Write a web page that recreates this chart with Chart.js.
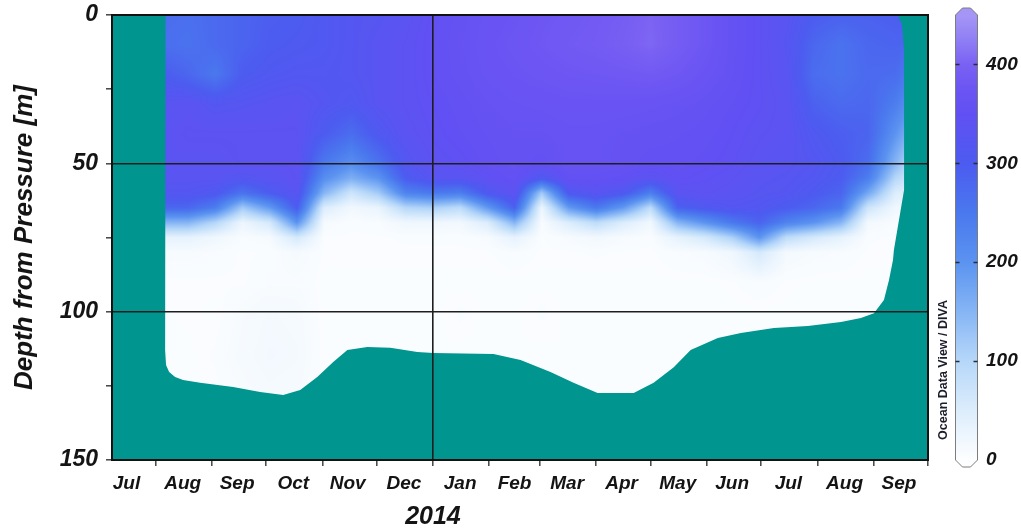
<!DOCTYPE html>
<html>
<head>
<meta charset="utf-8">
<script src="https://cdn.jsdelivr.net/npm/chart.js@4.4.1/dist/chart.umd.min.js"></script>
<style>
  html, body { margin: 0; padding: 0; background: #ffffff; }
  #wrap { width: 1021px; height: 531px; }
</style>
</head>
<body>
<div id="wrap"><canvas id="section" width="1021" height="531"></canvas></div>
<script>
// ---- time axis: days relative to 1 Jan 2014 ----
const monthNames     = ['Jul','Aug','Sep','Oct','Nov','Dec','Jan','Feb','Mar','Apr','May','Jun','Jul','Aug','Sep'];
const monthMidDays   = [-169,-138,-108,-77,-47,-16,15,45,74,104,135,165,196,227,257];
const monthStartDays = [-153,-122,-92,-61,-31,0,31,59,90,120,151,181,212,243,273];
const timeMin = -177, timeMax = 273;
const yearLabel = '2014', yearDay = 0;

// ---- depth axis ----
const depthTicks = [0,25,50,75,100,125,150];
const depthLabelStep = 50;
const depthLines = [50,100];

// ---- colour bar ----
const cbTicks = [0,100,200,300,400];
const cbMax = 450;
const cbStopValues = [0, 50, 100, 150, 200, 250, 300, 350, 375, 400, 425, 450];
const cbStopColors = ['#fdfeff','#dcedfc','#b6d7f9','#86b5f5','#5b93f0','#4a78ee',
                      '#4c5bf0','#6150f3','#6b55f3','#7a61f3','#8f7ff5','#a596f6'];

// ---- gridded field: sample times (days) and depths (m) ----
const sampleDays = [-148,-135,-120,-105,-90,-75,-60,-45,-30,-15,0,15,30,45,60,75,90,105,120,135,150,165,180,195,210,225,240,255,262];
const sampleDepths = [0,10,20,30,40,50,55,60,65,70,75,80,90,100,115,130];

const at0m   = [270,265,275,285,295,300,310,320,325,335,350,360,368,372,378,382,386,392,402,390,378,360,345,330,300,290,290,295,300];
const at10m  = [265,260,275,285,300,305,310,320,330,340,352,362,370,375,380,385,388,395,405,390,378,360,345,325,280,260,280,285,280];
const at20m  = [300,280,250,300,310,315,315,320,330,340,352,360,368,372,375,378,380,382,385,380,370,358,345,330,270,260,275,270,250];
const at30m  = [330,335,320,325,330,335,320,310,330,340,348,355,362,366,368,370,370,370,368,365,360,352,345,335,290,275,280,240,210];
const at40m  = [335,340,340,340,340,340,300,270,310,335,345,352,358,362,362,365,365,362,360,358,355,348,340,335,310,295,285,200,160];
const at50m  = [335,335,335,340,340,340,250,210,260,320,340,345,355,360,355,365,365,360,355,355,350,345,335,330,320,305,270,150,100];
const at55m  = [330,330,330,320,330,340,210,160,200,300,330,330,345,355,310,355,355,350,335,350,345,340,330,325,315,300,240,100,70];
const at60m  = [320,320,310,260,300,330,150,70,120,230,250,240,310,340,120,310,330,310,240,335,340,335,325,320,305,285,170,50,40];
const at65m  = [280,280,240,120,190,300,50,18,30,100,110,90,190,290,25,190,250,190,90,290,310,320,315,300,280,250,70,20,15];
const at70m  = [150,150,100,25,60,200,12,6,8,20,20,18,50,150,8,50,90,50,18,150,200,250,285,230,200,150,15,8,6];
const at75m  = [35,35,20,8,12,60,5,5,5,6,6,6,10,35,5,10,18,10,6,35,60,110,200,90,60,35,6,5,5];
const at80m  = [10,10,8,5,6,12,5,5,5,5,5,5,5,8,5,5,6,5,5,8,10,20,60,15,10,8,5,5,5];
const at90m  = [5,5,5,5,8,8,4,4,4,4,4,4,4,4,4,4,4,4,4,4,4,5,8,5,4,4,4,4,4];
const at100m = [4,5,4,10,14,12,4,4,4,4,4,6,4,4,6,4,4,4,4,4,4,4,4,4,4,4,4,4,4];
const at115m = [4,4,6,12,16,14,4,4,4,4,4,4,4,4,4,4,4,4,4,4,4,4,4,4,4,4,4,4,4];
const at130m = [4,4,4,8,12,10,4,4,4,4,4,4,4,4,4,4,4,4,4,4,4,4,4,4,4,4,4,4,4];
const fieldRows = [at0m, at10m, at20m, at30m, at40m, at50m, at55m, at60m, at65m, at70m, at75m, at80m, at90m, at100m, at115m, at130m];

// ---- outline of the sampled region (time, depth) ----
const edgeDays   = [-147.5,-147.7,-147.2,-145.5,-142.2,-137.8,-128.4,-110.2,-95.3,-82.6,-73.2,-63.8,-55.0,-47.2,-36.2,-23.5,-8.6,0.2,33.4,48.3,64.8,77.5,90.8,110.7,121.7,132.8,142.1,157.1,169.8,188.0,206.7,225.0,236.0,243.2,248.7,251.5,253.7,254.2,257.0,259.8,259.8,258.7,256.4];
const edgeDepths = [0,113.0,118.0,120.3,122.0,123.0,124.0,125.4,127.1,128.1,126.4,122.0,117.0,112.9,111.9,112.2,113.6,113.9,114.3,116.3,120.3,124.0,127.4,127.4,124.0,118.7,112.9,108.9,107.2,105.5,104.8,103.5,102.1,100.5,96.1,89.3,82.6,79.2,69.1,59.0,11.8,3.4,0];

const seabedColor = '#00958f';
const inkColor = '#141414';
const fontFamily = "'Liberation Sans', Arial, Helvetica, sans-serif";

function hexToRgb(h) {
  return [parseInt(h.slice(1,3),16), parseInt(h.slice(3,5),16), parseInt(h.slice(5,7),16)];
}
function colourTable() {
  const rgb = cbStopColors.map(hexToRgb);
  const lut = [];
  for (let v = 0; v <= cbMax; v++) {
    let k = 0;
    while (k < cbStopValues.length - 2 && v > cbStopValues[k+1]) k++;
    const f = (v - cbStopValues[k]) / (cbStopValues[k+1] - cbStopValues[k]);
    lut.push(rgb[k].map((c, n) => Math.round(c + (rgb[k+1][n] - c) * Math.min(1, Math.max(0, f)))));
  }
  return lut;
}
function locate(arr, v) {
  if (v <= arr[0]) return [0, 0];
  if (v >= arr[arr.length-1]) return [arr.length-2, 1];
  let k = 0;
  while (k < arr.length - 2 && v > arr[k+1]) k++;
  return [k, (v - arr[k]) / (arr[k+1] - arr[k])];
}
function zeroPadding(scale) {
  scale.paddingTop = 0; scale.paddingBottom = 0;
  scale.paddingLeft = 0; scale.paddingRight = 0;
}

// Interpolated section field, clipped to the sampled region, over the sea-bed colour.
const sectionField = {
  id: 'sectionField',
  beforeDraw(chart) {
    const {ctx, chartArea: a, scales} = chart;
    const xs = scales.x, ys = scales.y;
    const w = Math.round(a.right - a.left), h = Math.round(a.bottom - a.top);
    const off = document.createElement('canvas');
    off.width = w; off.height = h;
    const octx = off.getContext('2d');
    const img = octx.createImageData(w, h);
    const lut = colourTable();
    const colK = new Array(w), colF = new Array(w);
    for (let i = 0; i < w; i++) {
      const [k, f] = locate(sampleDays, xs.getValueForPixel(a.left + i + 0.5));
      colK[i] = k; colF[i] = f;
    }
    for (let j = 0; j < h; j++) {
      const [r, g] = locate(sampleDepths, ys.getValueForPixel(a.top + j + 0.5));
      const r0 = fieldRows[r], r1 = fieldRows[r+1];
      for (let i = 0; i < w; i++) {
        const k = colK[i], f = colF[i];
        const v0 = r0[k] + (r0[k+1] - r0[k]) * f;
        const v1 = r1[k] + (r1[k+1] - r1[k]) * f;
        const v = Math.max(0, Math.min(cbMax, Math.round(v0 + (v1 - v0) * g)));
        const c = lut[v], p = (j * w + i) * 4;
        img.data[p] = c[0]; img.data[p+1] = c[1]; img.data[p+2] = c[2]; img.data[p+3] = 255;
      }
    }
    octx.putImageData(img, 0, 0);

    ctx.save();
    ctx.fillStyle = seabedColor;
    ctx.fillRect(a.left, a.top, a.right - a.left, a.bottom - a.top);
    ctx.beginPath();
    edgeDays.forEach((d, n) => {
      const px = xs.getPixelForValue(d), py = ys.getPixelForValue(edgeDepths[n]);
      if (n === 0) ctx.moveTo(px, py); else ctx.lineTo(px, py);
    });
    ctx.closePath();
    ctx.clip();
    ctx.drawImage(off, a.left, a.top);
    ctx.restore();
  },
  afterDraw(chart) {
    const {ctx, chartArea: a, scales} = chart;
    const cb = scales.cb;
    ctx.save();
    // plot frame
    ctx.strokeStyle = '#111111';
    ctx.lineWidth = 2;
    ctx.strokeRect(a.left, a.top, a.right - a.left, a.bottom - a.top);

    // colour bar
    const x0 = a.right + 27.5, x1 = a.right + 49.5;
    const yTop = cb.getPixelForValue(cbMax), yBot = cb.getPixelForValue(0);
    const cap = 7, inset = 7;
    const grad = ctx.createLinearGradient(0, yBot, 0, yTop);
    cbStopValues.forEach((v, n) => grad.addColorStop(v / cbMax, cbStopColors[n]));
    ctx.beginPath();
    ctx.moveTo(x0, yBot);
    ctx.lineTo(x0, yTop);
    ctx.lineTo(x0 + inset, yTop - cap);
    ctx.lineTo(x1 - inset, yTop - cap);
    ctx.lineTo(x1, yTop);
    ctx.lineTo(x1, yBot);
    ctx.lineTo(x1 - inset, yBot + cap);
    ctx.lineTo(x0 + inset, yBot + cap);
    ctx.closePath();
    ctx.fillStyle = grad;
    ctx.fill();
    // caps keep the end colours
    ctx.fillStyle = cbStopColors[cbStopColors.length - 1];
    ctx.beginPath();
    ctx.moveTo(x0, yTop + 0.5); ctx.lineTo(x0 + inset, yTop - cap); ctx.lineTo(x1 - inset, yTop - cap); ctx.lineTo(x1, yTop + 0.5);
    ctx.closePath(); ctx.fill();
    ctx.fillStyle = cbStopColors[0];
    ctx.beginPath();
    ctx.moveTo(x0, yBot - 0.5); ctx.lineTo(x0 + inset, yBot + cap); ctx.lineTo(x1 - inset, yBot + cap); ctx.lineTo(x1, yBot - 0.5);
    ctx.closePath(); ctx.fill();
    // outline
    ctx.beginPath();
    ctx.moveTo(x0, yBot); ctx.lineTo(x0, yTop); ctx.lineTo(x0 + inset, yTop - cap); ctx.lineTo(x1 - inset, yTop - cap);
    ctx.lineTo(x1, yTop); ctx.lineTo(x1, yBot); ctx.lineTo(x1 - inset, yBot + cap); ctx.lineTo(x0 + inset, yBot + cap);
    ctx.closePath();
    ctx.strokeStyle = '#7d7d7d';
    ctx.lineWidth = 1;
    ctx.stroke();
    // tick dashes on the bar
    ctx.strokeStyle = '#2a2a3a';
    ctx.lineWidth = 1.5;
    cbTicks.filter(v => v > 0).forEach(v => {
      const py = Math.round(cb.getPixelForValue(v)) + 0.5;
      ctx.beginPath();
      ctx.moveTo(x0, py); ctx.lineTo(x0 + 4, py);
      ctx.moveTo(x1 - 4, py); ctx.lineTo(x1, py);
      ctx.stroke();
    });

    // software credit beside the bar
    ctx.fillStyle = '#1c1c2a';
    ctx.font = 'bold 12.5px ' + fontFamily;
    ctx.textAlign = 'center';
    ctx.textBaseline = 'middle';
    ctx.translate(a.right + 16, cb.getPixelForValue(91));
    ctx.rotate(-Math.PI / 2);
    ctx.fillText('Ocean Data View / DIVA', 0, 0);
    ctx.restore();

    // year under the time axis
    ctx.save();
    ctx.fillStyle = inkColor;
    ctx.font = 'italic bold 25px ' + fontFamily;
    ctx.textAlign = 'center';
    ctx.textBaseline = 'middle';
    ctx.fillText(yearLabel, scales.x.getPixelForValue(yearDay), 517);
    ctx.restore();
  }
};

const timeTicks = monthStartDays.concat(monthMidDays).sort((p, q) => p - q);
const labelFont = (size) => ({ family: fontFamily, size: size, weight: 'bold', style: 'italic' });

new Chart(document.getElementById('section'), {
  type: 'scatter',
  data: { datasets: [] },
  plugins: [sectionField],
  options: {
    responsive: false,
    animation: false,
    layout: { padding: { top: 15, left: 0, right: 0, bottom: 0 } },
    plugins: { legend: { display: false }, tooltip: { enabled: false } },
    scales: {
      x: {
        type: 'linear',
        position: 'bottom',
        min: timeMin,
        max: timeMax,
        afterBuildTicks: (scale) => { scale.ticks = timeTicks.map(v => ({ value: v })); },
        afterFit: (scale) => { scale.height = 71; zeroPadding(scale); },
        ticks: {
          autoSkip: false,
          maxRotation: 0,
          padding: 6,
          color: inkColor,
          font: labelFont(19),
          callback: (v) => { const n = monthMidDays.indexOf(v); return n >= 0 ? monthNames[n] : ''; }
        },
        grid: {
          drawOnChartArea: true,
          tickLength: 6,
          color: (c) => (c.tick && c.tick.value === yearDay) ? '#1e1e1e' : 'rgba(0,0,0,0)',
          lineWidth: 1.6,
          tickColor: (c) => (c.tick && monthStartDays.includes(c.tick.value)) ? '#444444' : 'rgba(0,0,0,0)',
          tickWidth: 1.5
        },
        border: { display: true, color: '#111111', width: 2 }
      },
      y: {
        type: 'linear',
        position: 'left',
        reverse: true,
        min: 0,
        max: 150,
        afterBuildTicks: (scale) => { scale.ticks = depthTicks.map(v => ({ value: v })); },
        afterFit: (scale) => { scale.width = 112; zeroPadding(scale); },
        ticks: {
          autoSkip: false,
          padding: 8,
          color: inkColor,
          font: labelFont(23),
          callback: (v) => (v % depthLabelStep === 0 ? String(v) : '')
        },
        grid: {
          tickLength: 6,
          color: (c) => (c.tick && depthLines.includes(c.tick.value)) ? '#1e1e1e' : 'rgba(0,0,0,0)',
          lineWidth: 1.6,
          tickColor: '#444444',
          tickWidth: 1.5
        },
        border: { display: true, color: '#111111', width: 2 },
        title: {
          display: true,
          text: 'Depth from Pressure [m]',
          color: inkColor,
          font: labelFont(26),
          padding: { top: 9, bottom: 0 }
        }
      },
      cb: {
        type: 'linear',
        axis: 'y',
        position: 'right',
        min: 0,
        max: cbMax,
        afterBuildTicks: (scale) => { scale.ticks = cbTicks.map(v => ({ value: v })); },
        afterFit: (scale) => { scale.width = 93; zeroPadding(scale); },
        ticks: {
          autoSkip: false,
          padding: 58,
          color: inkColor,
          font: labelFont(19),
          callback: (v) => String(v)
        },
        grid: { display: false, drawTicks: false },
        border: { display: false }
      }
    }
  }
});
</script>
</body>
</html>
